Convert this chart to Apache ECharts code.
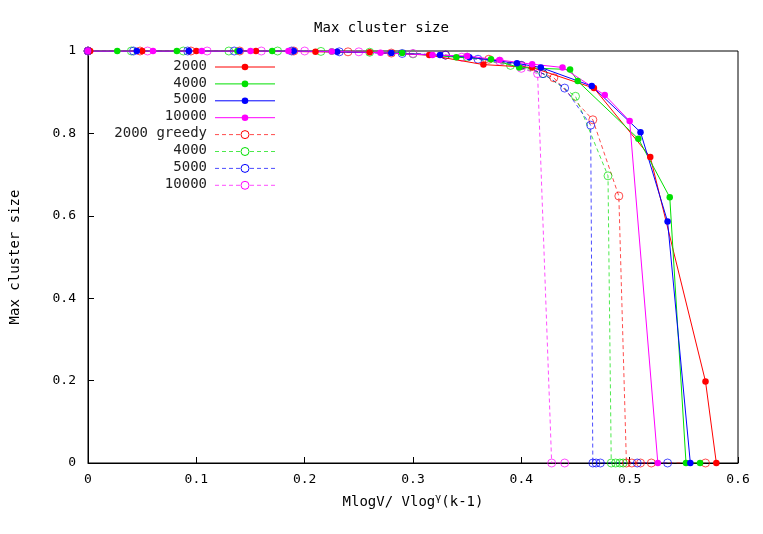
<!DOCTYPE html><html><head><meta charset="utf-8">
<script src="https://cdn.jsdelivr.net/npm/echarts@6/dist/echarts.min.js"></script>
<style>html,body{margin:0;background:#fff}#c{width:763px;height:534px}</style></head><body><div id="c"></div>
<script>
const names=['2000','4000','5000','10000','2000 greedy','4000','5000','10000'];
const colors=['#ff0000','#00e000','#0000ff','#ff00ff','#ff0000','#00e000','#0000ff','#ff00ff'];
const s2000=[[0.002,1],[0.05,1],[0.1,1],[0.155,1],[0.21,0.998],[0.26,0.997],[0.315,0.99],[0.365,0.967],[0.41,0.96],[0.467,0.91],[0.519,0.743],[0.57,0.198],[0.58,0]];
const s4000=[[0,1],[0.027,1],[0.082,1],[0.138,1],[0.17,1],[0.225,0.999],[0.29,0.995],[0.34,0.985],[0.372,0.98],[0.398,0.96],[0.445,0.955],[0.452,0.927],[0.508,0.787],[0.537,0.645],[0.552,0],[0.565,0]];
const s5000=[[0,1],[0.045,1],[0.093,1],[0.14,1],[0.19,1],[0.23,0.998],[0.28,0.995],[0.325,0.99],[0.352,0.985],[0.396,0.97],[0.418,0.96],[0.465,0.915],[0.51,0.803],[0.535,0.586],[0.556,0]];
const s10000=[[0,1],[0.06,1],[0.105,1],[0.15,1],[0.185,1],[0.225,0.999],[0.27,0.996],[0.318,0.99],[0.35,0.988],[0.38,0.978],[0.41,0.968],[0.438,0.96],[0.477,0.893],[0.5,0.83],[0.526,0]];
const g2000=[[0,1],[0.048,1],[0.095,1],[0.14,1],[0.19,1],[0.24,0.998],[0.28,0.995],[0.33,0.99],[0.37,0.98],[0.4,0.965],[0.43,0.935],[0.466,0.833],[0.49,0.648],[0.497,0],[0.502,0],[0.51,0],[0.52,0],[0.57,0]];
const g4000=[[0,1],[0.04,1],[0.088,1],[0.13,1],[0.175,1],[0.215,0.999],[0.26,0.997],[0.3,0.993],[0.35,0.985],[0.39,0.965],[0.42,0.945],[0.45,0.89],[0.48,0.697],[0.483,0],[0.487,0],[0.491,0],[0.494,0]];
const g5000=[[0,1],[0.042,1],[0.092,1],[0.135,1],[0.188,1],[0.232,0.998],[0.29,0.994],[0.33,0.99],[0.36,0.98],[0.4,0.965],[0.42,0.945],[0.44,0.91],[0.464,0.82],[0.466,0],[0.469,0],[0.473,0],[0.507,0],[0.535,0]];
const g10000=[[0,1],[0.055,1],[0.11,1],[0.16,1],[0.2,1],[0.25,0.998],[0.3,0.994],[0.345,0.985],[0.38,0.975],[0.4,0.958],[0.415,0.945],[0.428,0],[0.44,0]];
const data=[s2000,s4000,s5000,s10000,g2000,g4000,g5000,g10000];
const xTicks=[0,0.1,0.2,0.3,0.4,0.5,0.6], yTicks=[0,0.2,0.4,0.6,0.8,1];
const F='DejaVu Sans Mono';
const series=data.map((d,i)=>({name:names[i],type:'line',data:d,symbol:'circle',symbolSize:i<4?6.5:8,showSymbol:true,
 itemStyle:{color:i<4?colors[i]:'rgba(255,255,255,0)',borderColor:colors[i],borderWidth:i<4?0:1,opacity:i<4?1:0.7},
 lineStyle:{color:colors[i],width:1,type:i<4?'solid':[4,3],opacity:i<4?1:0.7},z:i<4?3:2,animation:false}));
const graphic=[];
names.forEach((n,i)=>{const y=67+i*16.9;
 graphic.push({type:'text',right:763-207,top:y-8,style:{text:n,font:'14px '+F,fill:'#222',textAlign:'right'}});
 graphic.push({type:'line',shape:{x1:215,y1:y,x2:275,y2:y},style:{stroke:colors[i],lineWidth:1,opacity:i<4?1:0.7,lineDash:i<4?null:[4,3]}});
 graphic.push({type:'circle',shape:{cx:245,cy:y,r:i<4?3.3:4},style:{fill:i<4?colors[i]:'#fff',stroke:colors[i],lineWidth:i<4?0:1}});
});
const ax={axisLine:{show:true,onZero:false,lineStyle:{color:'#000'}},axisTick:{inside:true,length:6,lineStyle:{color:'#000'}},splitLine:{show:false},axisLabel:{fontFamily:F,fontSize:13,color:'#000'}};
const ch=echarts.init(document.getElementById('c'));
ch.setOption({animation:false,backgroundColor:'#fff',
 title:{text:'Max cluster size',left:'center',top:16,textStyle:{fontFamily:F,fontSize:14,fontWeight:'normal',color:'#000'}},
 grid:{left:88,right:25,top:51,bottom:71,show:true,borderColor:'#000',borderWidth:1},
 xAxis:Object.assign({type:'value',min:0,max:0.6,interval:0.1,name:'{a|MlogV/ Vlog}{s|γ}{a|(k-1)}',nameLocation:'middle',nameGap:30,
  nameTextStyle:{rich:{a:{fontFamily:F,fontSize:14,color:'#000'},s:{fontFamily:F,fontSize:10,color:'#000',verticalAlign:'bottom',padding:[0,0,8,0]}}}},ax,{axisLabel:Object.assign({},ax.axisLabel,{margin:10,formatter:v=>xTicks.includes(+v.toFixed(1))?String(+v.toFixed(1)):''})}),
 yAxis:Object.assign({type:'value',min:0,max:1,interval:0.2,name:'Max cluster size',nameLocation:'middle',nameGap:66,nameTextStyle:{fontFamily:F,fontSize:14,color:'#000'}},ax,{axisLabel:Object.assign({},ax.axisLabel,{margin:12,formatter:v=>String(+v.toFixed(1))})}),
 series,graphic});
</script></body></html>
